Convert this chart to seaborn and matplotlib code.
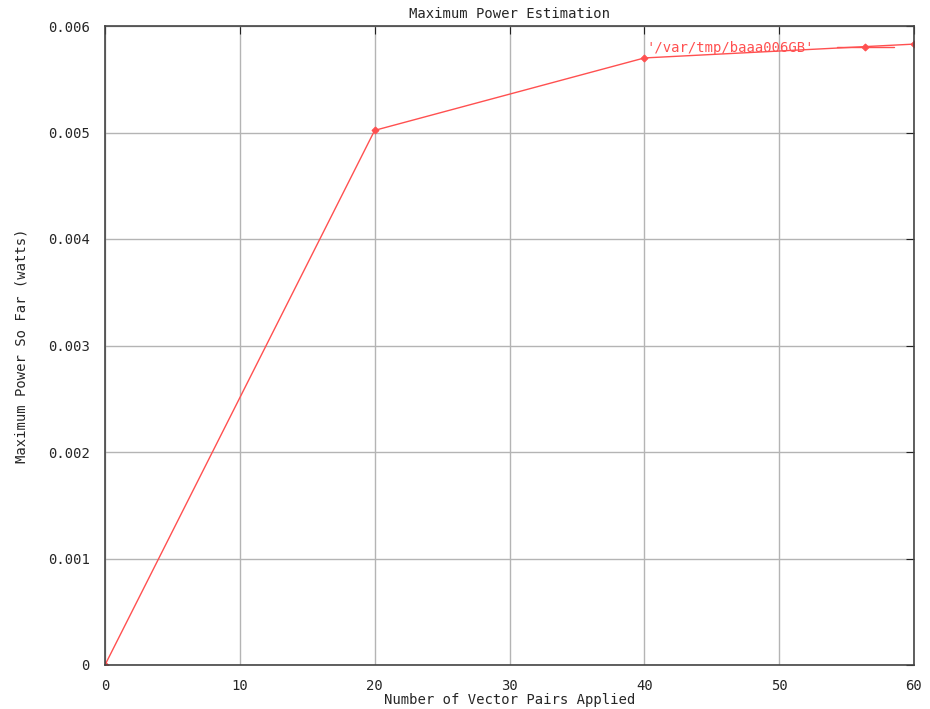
import matplotlib
matplotlib.use("Agg")
import matplotlib.pyplot as plt
import seaborn as sns
import pandas as pd

vector_pairs = [0, 20, 40, 60]
max_power = [0.0, 0.00502, 0.00570, 0.00583]
series_label = "'/var/tmp/baaa006GB'"
x_ticks = [0, 10, 20, 30, 40, 50, 60]
y_ticks = [0, 0.001, 0.002, 0.003, 0.004, 0.005, 0.006]
y_tick_labels = ["0", "0.001", "0.002", "0.003", "0.004", "0.005", "0.006"]

sns.set_style("white")
plt.rcParams['font.family'] = ['DejaVu Sans Mono']

df = pd.DataFrame({"x": vector_pairs, "y": max_power})

fig = plt.figure(figsize=(9.3, 7.09), dpi=100)
ax = fig.add_axes([105/930, 1-665/709, (914-105)/930, (665-26)/709])

sns.lineplot(data=df, x="x", y="y", ax=ax, color="#ff5050", linewidth=1,
             marker="D", markersize=3.5, markeredgewidth=0.8,
             markeredgecolor="#ff5050", label=series_label)

ax.set_xlim(0, 60)
ax.set_ylim(0, 0.006)
ax.set_xticks(x_ticks)
ax.set_xticklabels([str(t) for t in x_ticks])
ax.set_yticks(y_ticks)
ax.set_yticklabels(y_tick_labels)
ax.grid(True, color="#b4b4b4", linewidth=1)
ax.set_axisbelow(True)
ax.tick_params(direction="in", length=6, top=True, right=True, labelsize=10, color="#222222")
ax.tick_params(axis="y", pad=11)
ax.tick_params(axis="x", pad=10)
for s in ax.spines.values():
    s.set_color("#444444")
    s.set_linewidth(1.2)

ax.set_xlabel("Number of Vector Pairs Applied", fontsize=10, labelpad=0)
ax.set_ylabel("Maximum Power So Far (watts)", fontsize=10)
ax.set_title("Maximum Power Estimation", fontsize=10, pad=6)

leg = ax.legend(loc="upper right", frameon=False, markerfirst=False, fontsize=10,
                bbox_to_anchor=(0.985, 0.99), handlelength=4.1, handletextpad=1.6,
                borderaxespad=0.2)
for t in leg.get_texts():
    t.set_color("#ff5050")

ax.yaxis.set_label_coords((28 - 105) / (914 - 105), 0.5)

fig.savefig("out.png", dpi=100)
